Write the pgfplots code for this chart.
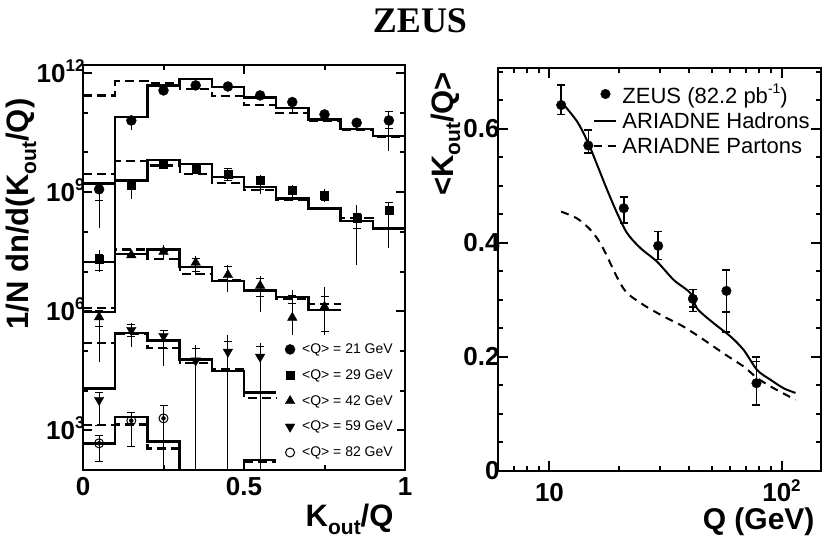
\documentclass[border=0pt]{standalone}
\usepackage{fontspec}
\setmainfont{Liberation Sans}
\newfontfamily\zeusfont{Liberation Serif}
\usepackage{pgfplots}
\pgfplotsset{compat=1.18}
\usepackage{pgfplotstable}

\newcommand{\fs}[1]{\fontsize{#1}{#1}\selectfont}
\newcommand{\sps}[1]{\raisebox{0.42em}{\fs{17}#1}}

% ---------------- left panel: histograms (left bin edge, hadrons, partons)
\pgfplotstableread{
x h p
0.0 1.65e9 2.74e11
0.1 7.8e10 6.3e11
0.2 4.9e11 5.7e11
0.3 7.2e11 3.9e11
0.4 4.4e11 2.6e11
0.5 2.4e11 1.6e11
0.6 1.34e11 1.0e11
0.7 6.8e10 6.4e10
0.8 3.95e10 3.8e10
0.9 2.6e10 2.5e10
1.0 2.6e10 2.5e10
}\histA
\pgfplotstableread{
x h p
0.0 1.77e7 2.86e9
0.1 1.98e9 5.97e9
0.2 6.5e9 4.7e9
0.3 5.2e9 2.9e9
0.4 2.4e9 1.73e9
0.5 1.34e9 1.11e9
0.6 6.9e8 6.3e8
0.7 3.9e8 3.75e8
0.8 1.87e8 2.27e8
0.9 1.22e8 1.24e8
1.0 1.22e8 1.24e8
}\histB
\pgfplotstableread{
x h p
0.0 9.7e5 1.2e6
0.1 2.76e7 3.6e7
0.2 3.6e7 2.03e7
0.3 1.32e7 8.6e6
0.4 5.8e6 6.1e6
0.5 3.3e6 3.4e6
0.6 2.3e6 2.0e6
0.7 1.07e6 1.52e6
0.8 1.07e6 1.52e6
}\histC
\pgfplotstableread{
x h p
0.0 1.14e4 1.61e5
0.1 2.87e5 2.67e5
0.2 1.81e5 1.16e5
0.3 6.1e4 5.0e4
0.4 3.1e4 3.4e4
0.5 8.9e3 6.4e3
0.6 8.9e3 6.4e3
}\histD
\pgfplotstableread{
x h p
0.0 4.7e2 1.36e3
0.1 2.2e3 1.4e3
0.2 5.2e2 3.5e2
0.3 10 10
0.4 10 10
0.5 1.79e2 1.6e2
0.6 1.79e2 1.6e2
}\histE

% ---------------- left panel: data points (x, y, total lo/hi, stat lo/hi)
\pgfplotstableread{
x y lo hi slo shi
0.05 1.18e9 1.25e8 1.83e9 6.3e8 1.18e9
0.15 6.4e10 3.6e10 8.75e10 6.4e10 6.4e10
0.25 3.66e11 3.66e11 3.66e11 3.66e11 3.66e11
0.35 4.9e11 4.9e11 4.9e11 4.9e11 4.9e11
0.45 4.6e11 4.6e11 4.6e11 4.6e11 4.6e11
0.55 2.74e11 2.74e11 2.74e11 2.74e11 2.74e11
0.65 1.86e11 9.4e10 2.5e11 1.26e11 1.86e11
0.75 9.1e10 7.0e10 1.1e11 9.1e10 9.1e10
0.85 5.6e10 5.6e10 5.6e10 5.6e10 5.6e10
0.95 6.4e10 1.07e10 1.08e11 4.0e10 1.05e11
}\ptsA
\pgfplotstableread{
x y lo hi slo shi
0.05 2.07e7 9.7e6 3.48e7 1.09e7 2.76e7
0.15 1.48e9 6.8e8 2.18e9 1.48e9 1.48e9
0.25 5.2e9 5.2e9 5.2e9 5.2e9 5.2e9
0.35 3.9e9 3.9e9 3.9e9 3.9e9 3.9e9
0.45 2.8e9 1.98e9 3.9e9 1.98e9 3.9e9
0.55 1.98e9 9.1e8 2.65e9 1.2e9 1.98e9
0.65 1.15e9 6.8e8 1.54e9 1.15e9 1.15e9
0.75 8.6e8 5.6e8 1.22e9 6.0e8 8.6e8
0.85 2.19e8 1.46e7 4.7e8 1.22e8 2.9e8
0.95 3.54e8 3.84e7 5.7e8 1.22e8 5.5e8
}\ptsB
\pgfplotstableread{
x y lo hi slo shi
0.05 7.1e5 5.3e4 1.07e6 4.24e5 1.07e6
0.15 2.6e7 2.6e7 2.6e7 2.6e7 2.6e7
0.25 3.15e7 2.19e7 4.65e7 3.15e7 3.15e7
0.35 1.67e7 8.2e6 2.46e7 9.9e6 2.15e7
0.45 8.2e6 3.1e6 1.46e7 5.5e6 1.32e7
0.55 4.4e6 9.7e5 7.8e6 2.3e6 6.7e6
0.65 6.9e5 2.5e5 3.4e6 1.58e6 2.56e6
0.75 1.3e6 2.5e5 4.1e6 3.05e5 2.3e6
}\ptsC
\pgfplotstableread{
x y lo hi slo shi
0.05 5.8e3 1.36e3 9.2e3 1.36e3 9.2e3
0.15 3.36e5 1.28e5 5.1e5 2.37e5 4.5e5
0.25 2.37e5 4.2e4 3.36e5 1.16e5 3.36e5
0.35 5.7e4 1 1.41e5 1 1.16e5
0.45 9.5e4 1 2.5e5 1 1.7e5
0.55 7.1e4 1 1.55e5 1 1.28e5
}\ptsD
\pgfplotstableread{
x y lo hi slo shi
0.05 4.7e2 1.62e2 7.2e2 1.62e2 7.2e2
0.15 1.75e3 3.9e2 2.94e3 3.9e2 2.8e3
0.25 2.0e3 1 4.3e3 1 4.1e3
}\ptsE

% ---------------- right panel
\pgfplotstableread{
q v lo hi slo shi
11.23 0.642 0.625 0.677 0.642 0.642
14.7 0.571 0.558 0.598 0.571 0.571
20.9 0.461 0.435 0.481 0.461 0.461
29.4 0.395 0.371 0.420 0.395 0.395
41.5 0.302 0.280 0.318 0.288 0.302
57.9 0.316 0.244 0.353 0.279 0.316
78.0 0.154 0.116 0.200 0.154 0.192
}\zeuspts
\pgfplotstableread{
q v
11.23 0.648
13.16 0.613
14.7 0.575
16.05 0.537
17.73 0.493
19.58 0.452
21.63 0.417
24.67 0.391
29.12 0.367
34.35 0.335
40.5 0.312
43.3 0.285
51.1 0.259
60.3 0.236
68.8 0.212
78.6 0.177
89.7 0.160
102.3 0.145
114.9 0.137
}\hadrons
\pgfplotstableread{
q v
11.23 0.455
13.16 0.443
15.02 0.423
16.59 0.399
18.32 0.364
19.83 0.335
21.63 0.312
25.5 0.291
31.1 0.271
37.9 0.253
46.3 0.230
56.4 0.206
68.8 0.183
78.6 0.163
92.7 0.145
114.9 0.125
}\partons

\pgfplotsset{
  histH/.style={const plot, line width=2.4pt, black, forget plot},
  histP/.style={const plot, line width=2.2pt, black, dash pattern=on 9pt off 5pt, forget plot},
  staterr/.style={only marks, mark=none, forget plot,
    /pgfplots/error bars/y dir=both, /pgfplots/error bars/y explicit,
    /pgfplots/error bars/error mark=-,
    /pgfplots/error bars/error mark options={rotate=90, line width=1pt, mark size=4pt, black},
    /pgfplots/error bars/error bar style={line width=1pt, black}},
  toterr/.style={only marks,
    /pgfplots/error bars/y dir=both, /pgfplots/error bars/y explicit,
    /pgfplots/error bars/error mark=none,
    /pgfplots/error bars/error bar style={line width=1pt, black}},
  zerr/.style={
    /pgfplots/error bars/y dir=both, /pgfplots/error bars/y explicit,
    /pgfplots/error bars/error mark=-,
    /pgfplots/error bars/error mark options={rotate=90, line width=1.5pt, mark size=4pt, black},
    /pgfplots/error bars/error bar style={line width=1.5pt, black}},
  lineleg/.style={legend image code/.code={\draw[##1] (0pt,0pt) -- (22pt,0pt);}},
  markleg/.style={legend image code/.code={\draw[mark repeat=2,mark phase=2,##1] plot coordinates {(0pt,0pt) (11pt,0pt) (22pt,0pt)};}},
}

\begin{document}
\begin{tikzpicture}
\path[use as bounding box] (0pt,0pt) rectangle (830pt,545pt);

% ================= LEFT PANEL
\begin{axis}[
  at={(83pt,75pt)}, anchor=south west,
  width=322pt, height=405pt, scale only axis,
  xmin=0, xmax=1, ymode=log, ymin=100, ymax=1.6e12,
  axis line style={line width=2.4pt},
  every tick/.style={line width=2pt, black},
  major tick length=9pt, minor tick length=5pt,
  xtick={0,0.5,1}, xticklabels={0,0.5,1},
  minor xtick={0.25,0.75},
  ytick={1e3,1e6,1e9,1e12},
  yticklabels={10\sps{3},10\sps{6},10\sps{9},10\sps{12}},
  minor ytick={1e2,1e4,1e5,1e7,1e8,1e10,1e11},
  ticklabel style={font=\bfseries\fs{26}},
  xticklabel style={yshift=-4pt},
  yticklabel style={anchor=base east, xshift=5pt, yshift=-9pt},
  clip=true,
  legend style={at={(rel axis cs:0.975,0.322)}, anchor=north east,
    draw=none, fill=white, font=\fs{14}, row sep=10.5pt, inner sep=2pt,
    /tikz/every odd column/.append style={column sep=5pt}},
  legend cell align=left,
]
\addplot[histH] table[x=x,y=h]{\histA};
\addplot[histP] table[x=x,y=p]{\histA};
\addplot[histH] table[x=x,y=h]{\histB};
\addplot[histP] table[x=x,y=p]{\histB};
\addplot[histH] table[x=x,y=h]{\histC};
\addplot[histP] table[x=x,y=p]{\histC};
\addplot[histH] table[x=x,y=h]{\histD};
\addplot[histP] table[x=x,y=p]{\histD};
\addplot[histH] table[x=x,y=h]{\histE};
\addplot[histP] table[x=x,y=p]{\histE};

\addplot[staterr] table[x=x,y=y,y error plus expr=\thisrow{shi}-\thisrow{y},y error minus expr=\thisrow{y}-\thisrow{slo}]{\ptsA};
\addplot[staterr] table[x=x,y=y,y error plus expr=\thisrow{shi}-\thisrow{y},y error minus expr=\thisrow{y}-\thisrow{slo}]{\ptsB};
\addplot[staterr] table[x=x,y=y,y error plus expr=\thisrow{shi}-\thisrow{y},y error minus expr=\thisrow{y}-\thisrow{slo}]{\ptsC};
\addplot[staterr] table[x=x,y=y,y error plus expr=\thisrow{shi}-\thisrow{y},y error minus expr=\thisrow{y}-\thisrow{slo}]{\ptsD};
\addplot[staterr] table[x=x,y=y,y error plus expr=\thisrow{shi}-\thisrow{y},y error minus expr=\thisrow{y}-\thisrow{slo}]{\ptsE};

\addplot[toterr, mark=*, mark size=5pt, mark options={fill=black, draw=black}, markleg]
  table[x=x,y=y,y error plus expr=\thisrow{hi}-\thisrow{y},y error minus expr=\thisrow{y}-\thisrow{lo}]{\ptsA};
\addlegendentry{<Q> = 21 GeV}
\addplot[toterr, mark=square*, mark size=4pt, mark options={fill=black, draw=black}, markleg]
  table[x=x,y=y,y error plus expr=\thisrow{hi}-\thisrow{y},y error minus expr=\thisrow{y}-\thisrow{lo}]{\ptsB};
\addlegendentry{<Q> = 29 GeV}
\addplot[toterr, mark=triangle*, mark size=5.5pt, mark options={fill=black, draw=black}, markleg]
  table[x=x,y=y,y error plus expr=\thisrow{hi}-\thisrow{y},y error minus expr=\thisrow{y}-\thisrow{lo}]{\ptsC};
\addlegendentry{<Q> = 42 GeV}
\addplot[toterr, mark=triangle*, mark size=5.5pt, mark options={fill=black, draw=black, rotate=180}, markleg]
  table[x=x,y=y,y error plus expr=\thisrow{hi}-\thisrow{y},y error minus expr=\thisrow{y}-\thisrow{lo}]{\ptsD};
\addlegendentry{<Q> = 59 GeV}
\addplot[toterr, mark=o, mark size=4.5pt, mark options={fill=white, draw=black, line width=1pt}, markleg]
  table[x=x,y=y,y error plus expr=\thisrow{hi}-\thisrow{y},y error minus expr=\thisrow{y}-\thisrow{lo}]{\ptsE};
\addlegendentry{<Q> = 82 GeV}
\end{axis}

% ================= RIGHT PANEL
\begin{axis}[
  at={(498pt,74pt)}, anchor=south west,
  width=323pt, height=403pt, scale only axis,
  xmode=log, xmin=6, xmax=148, ymin=0, ymax=0.707,
  axis line style={line width=2.4pt},
  every tick/.style={line width=2pt, black},
  major tick length=10pt, minor tick length=5pt,
  xtick={10,100}, xticklabels={10,10\sps{2}},
  minor xtick={7,8,9,20,30,40,50,60,70,80,90},
  ytick={0,0.2,0.4,0.6}, yticklabels={0,0.2,0.4,0.6},
  minor ytick={0.05,0.1,0.15,0.25,0.3,0.35,0.45,0.5,0.55,0.65,0.7},
  ticklabel style={font=\bfseries\fs{26}},
  xticklabel style={anchor=base, yshift=-31pt},
  yticklabel style={anchor=base east, xshift=5pt, yshift=-9pt},
  legend style={at={(rel axis cs:0.295,0.967)}, anchor=north west,
    draw=none, fill=none, font=\fs{22}, row sep=4pt, inner sep=0pt,
    /tikz/every odd column/.append style={column sep=3pt}},
  legend cell align=left, reverse legend,
]
\addplot[black, line width=2pt, dash pattern=on 8pt off 6pt, smooth, tension=0.5, lineleg]
  table[x=q,y=v]{\partons};
\addlegendentry{ARIADNE Partons}
\addplot[black, line width=2pt, smooth, tension=0.5, lineleg]
  table[x=q,y=v]{\hadrons};
\addlegendentry{ARIADNE Hadrons}
\addplot[only marks, mark=none, forget plot, zerr]
  table[x=q,y=v,y error plus expr=\thisrow{shi}-\thisrow{v},y error minus expr=\thisrow{v}-\thisrow{slo}]{\zeuspts};
\addplot[only marks, mark=*, mark size=4.8pt, mark options={fill=black, draw=black}, markleg, zerr]
  table[x=q,y=v,y error plus expr=\thisrow{hi}-\thisrow{v},y error minus expr=\thisrow{v}-\thisrow{lo}]{\zeuspts};
\addlegendentry{ZEUS (82.2 pb\raisebox{0.45em}{\fs{14}-1})}
\end{axis}

% ================= titles
\node[font=\zeusfont\bfseries\fs{36}, anchor=base] at (420pt,512pt) {ZEUS};
\node[anchor=base east, font=\bfseries\fs{31}] at (397pt,18pt) {K\raisebox{-8pt}{\fs{21}out}/Q};
\node[anchor=base east, font=\bfseries\fs{30}] at (818pt,15pt) {Q (GeV)};
\node[rotate=90, anchor=base, font=\bfseries\fs{31}] at (28pt,331pt) {1/N dn/d(K\raisebox{-8pt}{\fs{21}out}/Q)};
\node[rotate=90, anchor=base, font=\bfseries\fs{31}] at (453pt,411pt) {<K\raisebox{-7pt}{\fs{21}out}/Q>};
\end{tikzpicture}
\end{document}
